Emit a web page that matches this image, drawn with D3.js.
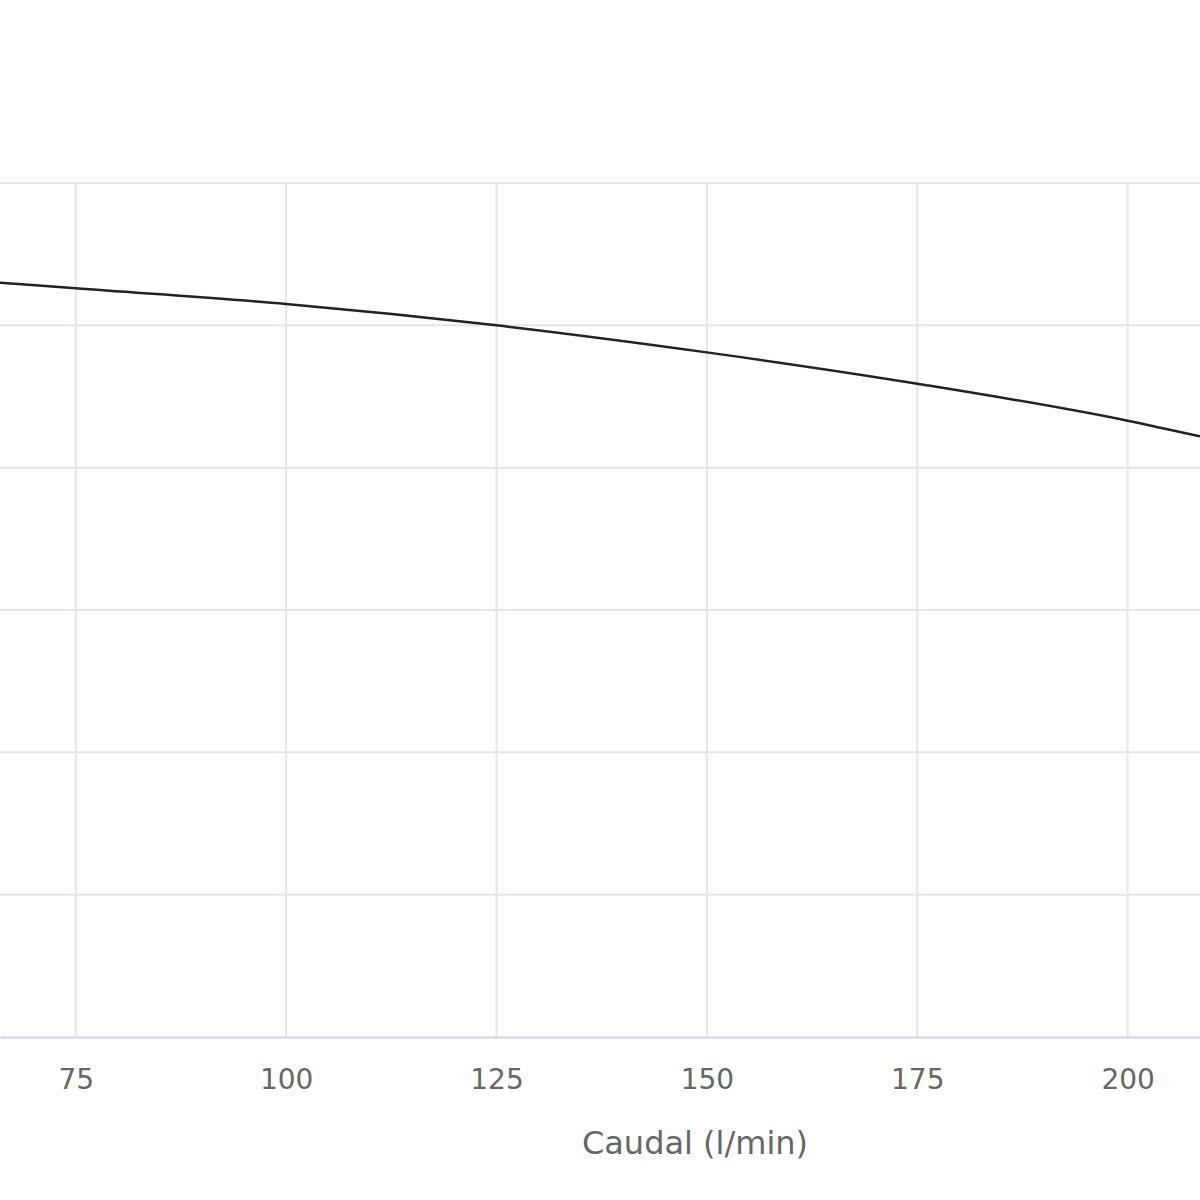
<!DOCTYPE html>
<html>
<head>
<meta charset="utf-8">
<script src="https://cdn.jsdelivr.net/npm/d3@7"></script>
<style>
  body { margin: 0; background: #fff; }
  svg { display: block; }
</style>
</head>
<body>
<div id="chart"></div>
<script>
// Flow (l/min) and head values
const flow = [66, 75, 100, 125, 150, 175, 200, 208.6];
const head = [5.30, 5.26, 5.15, 5.00, 4.81, 4.59, 4.33, 4.22];
const xTicks = [75, 100, 125, 150, 175, 200];
const yGrid = [0, 1, 2, 3, 4, 5, 6];

const width = 1200, height = 1200;

// Plot area (left/right edges are cropped in the reference)
const x = d3.scaleLinear().domain([66, 208.6]).range([0, 1200]);
const y = d3.scaleLinear().domain([0, 6]).range([1037, 183]);

const svg = d3.select('#chart')
  .append('svg')
  .attr('width', width)
  .attr('height', height);

// Horizontal grid
svg.append('g')
  .selectAll('line')
  .data(yGrid.slice(1))
  .enter()
  .append('line')
  .attr('x1', 0).attr('x2', width)
  .attr('y1', d => y(d)).attr('y2', d => y(d))
  .attr('stroke', '#e4e4ee')
  .attr('stroke-width', 2);

// Vertical grid
svg.append('g')
  .selectAll('line')
  .data(xTicks)
  .enter()
  .append('line')
  .attr('x1', d => x(d)).attr('x2', d => x(d))
  .attr('y1', y(6)).attr('y2', y(0))
  .attr('stroke', '#e4e4ee')
  .attr('stroke-width', 2);

// X axis
const xAxis = svg.append('g')
  .attr('transform', `translate(0,${y(0)})`)
  .call(d3.axisBottom(x).tickValues(xTicks).tickSize(0).tickPadding(32));
xAxis.select('.domain').attr('stroke', '#ccd6eb').attr('stroke-width', 2);
xAxis.selectAll('text')
  .attr('fill', '#666666')
  .style('font-family', '"DejaVu Sans", sans-serif')
  .style('font-size', '28px');

// Axis title
svg.append('text')
  .attr('x', 695)
  .attr('y', 1154)
  .attr('text-anchor', 'middle')
  .attr('fill', '#666666')
  .style('font-family', '"DejaVu Sans", sans-serif')
  .style('font-size', '32px')
  .text('Caudal (l/min)');

// Curve
const line = d3.line()
  .x((d, i) => x(flow[i]))
  .y(d => y(d))
  .curve(d3.curveMonotoneX);

svg.append('path')
  .datum(head)
  .attr('fill', 'none')
  .attr('stroke', '#222222')
  .attr('stroke-width', 2.5)
  .attr('d', line);
</script>
</body>
</html>
